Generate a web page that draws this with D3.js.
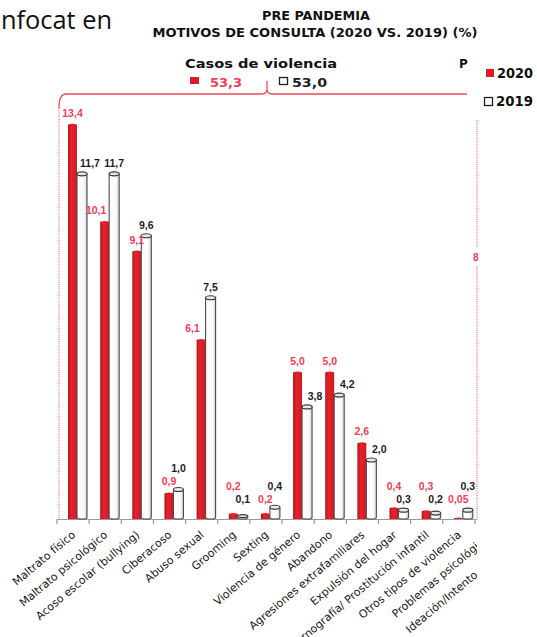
<!DOCTYPE html>
<html><head><meta charset="utf-8">
<script src="https://cdn.jsdelivr.net/npm/d3@7"></script>
<style>html,body{margin:0;padding:0;background:#fff;overflow:hidden} svg{display:block}</style>
</head><body>
<script>
// ---- data ----
const categories = ["Maltrato físico","Maltrato psicológico","Acoso escolar (bullying)","Ciberacoso","Abuso sexual","Grooming","Sexting","Violencia de género","Abandono","Agresiones extrafamiliares","Expulsión del hogar","Pornografía/ Prostitución infantil","Otros tipos de violencia","Problemas psicológicos","Ideación/Intento de suicidio"];
const values2020 = [13.4,10.1,9.1,0.9,6.1,0.2,0.2,5.0,5.0,2.6,0.4,0.3,0.05,null,null];
const values2019 = [11.7,11.7,9.6,1.0,7.5,0.1,0.4,3.8,4.2,2.0,0.3,0.2,0.3,null,null];
const seriesNames = ["2020","2019"];
const groupTitle = "Casos de violencia";
const groupTotals = [53.3, 53.0];
const titleLines = ["PRE PANDEMIA","MOTIVOS DE CONSULTA (2020 VS. 2019) (%)"];

// ---- layout ----
const W = 537, H = 637;
const RED = "#e01b24", LINE_RED = "#ee4a55", LBL_RED = "#f23d57", DARK = "#1c1c28";
const y0 = 519, yTop = 519 - 14*29.5;
const svg = d3.select("body").append("svg").attr("width", W).attr("height", H);
const defs = svg.append("defs");
const gr = defs.append("linearGradient").attr("id","gRed").attr("x1","0").attr("x2","1");
gr.append("stop").attr("offset","0").attr("stop-color","#b3141b");
gr.append("stop").attr("offset","0.35").attr("stop-color","#e4222b");
gr.append("stop").attr("offset","1").attr("stop-color","#d21a22");
const gw = defs.append("linearGradient").attr("id","gWhite").attr("x1","0").attr("x2","1");
gw.append("stop").attr("offset","0").attr("stop-color","#ffffff");
gw.append("stop").attr("offset","0.7").attr("stop-color","#fafafa");
gw.append("stop").attr("offset","1").attr("stop-color","#cfcfcf");
defs.append("clipPath").attr("id","clipR").append("rect").attr("x",0).attr("y",0).attr("width",477).attr("height",H);

const x = d3.scaleBand().domain(categories).range([57, 57 + categories.length*32.15]).padding(0);
const y = d3.scaleLinear().domain([0, 14]).range([y0, yTop]);
const fmt = v => v.toFixed(v < 0.1 ? 2 : 1).replace(".", ",");

// cropped slide text
svg.append("text").attr("x",1).attr("y",29).attr("font-family","'Open Sans', sans-serif")
  .attr("font-size",25).attr("fill","#111").attr("textLength",111).attr("lengthAdjust","spacingAndGlyphs").text("nfocat en");

// titles
svg.append("text").attr("x",316).attr("y",20).attr("text-anchor","middle").attr("font-family","'DejaVu Sans', sans-serif")
  .attr("font-weight","bold").attr("font-size",12).attr("fill","#111").attr("textLength",108).attr("lengthAdjust","spacingAndGlyphs").text(titleLines[0]);
svg.append("text").attr("x",315).attr("y",37).attr("text-anchor","middle").attr("font-family","'DejaVu Sans', sans-serif")
  .attr("font-weight","bold").attr("font-size",12.5).attr("fill","#111").attr("textLength",325).attr("lengthAdjust","spacingAndGlyphs").text(titleLines[1]);

// group header
svg.append("text").attr("x",261).attr("y",68).attr("text-anchor","middle").attr("font-family","'DejaVu Sans', sans-serif")
  .attr("font-weight","bold").attr("font-size",13).attr("fill","#111").attr("textLength",152).attr("lengthAdjust","spacingAndGlyphs").text(groupTitle);
svg.append("rect").attr("x",190).attr("y",77).attr("width",9).attr("height",7).attr("fill",RED);
svg.append("text").attr("x",210).attr("y",87).attr("font-family","'DejaVu Sans', sans-serif").attr("font-weight","bold")
  .attr("font-size",13).attr("fill",LBL_RED).attr("textLength",32).attr("lengthAdjust","spacingAndGlyphs").text(fmt(groupTotals[0]));
svg.append("rect").attr("x",279.5).attr("y",77.5).attr("width",8).attr("height",7).attr("fill","#fff").attr("stroke","#222").attr("stroke-width",1.3);
svg.append("text").attr("x",292).attr("y",87).attr("font-family","'DejaVu Sans', sans-serif").attr("font-weight","bold")
  .attr("font-size",13).attr("fill",DARK).attr("textLength",35).attr("lengthAdjust","spacingAndGlyphs").text(fmt(groupTotals[1]));
// cropped next header
svg.append("text").attr("x",459).attr("y",68).attr("font-family","'DejaVu Sans', sans-serif").attr("font-weight","bold")
  .attr("font-size",12).attr("fill","#111").text("P");

// legend (right)
svg.append("rect").attr("x",486).attr("y",69).attr("width",8).attr("height",8).attr("fill",RED);
svg.append("text").attr("x",497).attr("y",78).attr("font-family","'DejaVu Sans', sans-serif").attr("font-weight","bold")
  .attr("font-size",14).attr("fill","#111").attr("textLength",36).attr("lengthAdjust","spacingAndGlyphs").text(seriesNames[0]);
svg.append("rect").attr("x",484.5).attr("y",97.5).attr("width",8).attr("height",8).attr("fill","#fff").attr("stroke","#222").attr("stroke-width",1.3);
svg.append("text").attr("x",496).attr("y",106).attr("font-family","'DejaVu Sans', sans-serif").attr("font-weight","bold")
  .attr("font-size",14).attr("fill","#111").attr("textLength",37).attr("lengthAdjust","spacingAndGlyphs").text(seriesNames[1]);

// bracket
svg.append("path").attr("d","M59,108 Q59,94 66,94 L262,94 Q267,94 267,89 L267,81 M267,89 Q267,94 272,94 L467,94")
  .attr("fill","none").attr("stroke",LINE_RED).attr("stroke-width",1.3);
svg.append("line").attr("x1",59).attr("x2",59).attr("y1",108).attr("y2",y0).attr("stroke",LINE_RED).attr("stroke-width",1).attr("stroke-dasharray","1,1.2");
svg.append("line").attr("x1",477).attr("x2",477).attr("y1",120).attr("y2",248).attr("stroke",LINE_RED).attr("stroke-width",1).attr("stroke-dasharray","1,1.2");
svg.append("line").attr("x1",477).attr("x2",477).attr("y1",266).attr("y2",y0+2).attr("stroke",LINE_RED).attr("stroke-width",1).attr("stroke-dasharray","1,1.2");
svg.append("text").attr("x",473).attr("y",261).attr("font-family","'Liberation Sans', Arial, sans-serif").attr("font-weight","bold")
  .attr("font-size",10).attr("fill",LBL_RED).text("8");

// axis
const axisG = svg.append("g").attr("clip-path","url(#clipR)");
axisG.append("line").attr("x1",57).attr("x2",476).attr("y1",y0+0.5).attr("y2",y0+0.5).attr("stroke","#9a9a9a").attr("stroke-width",1.2);
axisG.selectAll("line.tick").data(categories).join("line").attr("class","tick")
  .attr("x1",d=>x(d)).attr("x2",d=>x(d)).attr("y1",y0).attr("y2",y0+5).attr("stroke","#9a9a9a").attr("stroke-width",1.2);

// bars
const rows = categories.map((c,i)=>({c, a: values2020[i], b: values2019[i]})).filter(d=>d.a!=null);
const bars = svg.append("g");
const labels = svg.append("g");
rows.forEach(d=>{
  const s = x(d.c);
  const rx0 = s+11, rw = 9, wx0 = s+20, ww = 10;
  const ra = y(d.a), rb = y(d.b);
  // red bar
  bars.append("path").attr("d",`M${rx0},${y0} L${rx0},${ra+1.5} Q${rx0},${ra} ${rx0+rw/2},${ra} Q${rx0+rw},${ra} ${rx0+rw},${ra+1.5} L${rx0+rw},${y0} Z`)
    .attr("fill","url(#gRed)");
  // white cylinder
  const h = y0 - rb;
  const ry = Math.min(2, h/2);
  bars.append("path").attr("d",`M${wx0},${rb} L${wx0},${y0-1.5} Q${wx0},${y0} ${wx0+ww/2},${y0} Q${wx0+ww},${y0} ${wx0+ww},${y0-1.5} L${wx0+ww},${rb} Z`)
    .attr("fill","url(#gWhite)").attr("stroke","#4a4a4a").attr("stroke-width",1.1);
  bars.append("ellipse").attr("cx",wx0+ww/2).attr("cy",rb).attr("rx",ww/2).attr("ry",ry)
    .attr("fill","#e8e8e8").attr("stroke","#3a3a3a").attr("stroke-width",1.1);

  // labels: stacked when close, nudged sideways away from a taller neighbouring bar
  let la = Math.min(ra - 7, 503), lb = Math.min(rb - 7, 503);
  if (Math.abs(la - lb) < 12) {
    if (d.a >= d.b) la = lb - 13; else lb = la - 13;
  }
  const dxA = (rb < la - 8) ? -8.5 : 0;
  const dxB = (ra < lb - 8) ? 8 : 0;
  labels.append("text").attr("x",rx0+rw/2+dxA).attr("y",la).attr("text-anchor","middle")
    .attr("font-family","'Liberation Sans', Arial, sans-serif").attr("font-weight","bold").attr("font-size",10.5)
    .attr("fill",LBL_RED).text(fmt(d.a));
  labels.append("text").attr("x",wx0+ww/2+dxB).attr("y",lb).attr("text-anchor","middle")
    .attr("font-family","'Liberation Sans', Arial, sans-serif").attr("font-weight","bold").attr("font-size",10.5)
    .attr("fill",DARK).text(fmt(d.b));
});

// category labels
const lab = svg.append("g").attr("clip-path","url(#clipR)");
lab.selectAll("text").data(categories).join("text")
  .attr("transform", d=>`translate(${x(d)+x.bandwidth()/2+3},536) rotate(-40)`)
  .attr("text-anchor","end").attr("font-family","'DejaVu Sans', sans-serif").attr("font-size",11)
  .attr("fill","#161616").text(d=>d);
</script>
</body></html>
